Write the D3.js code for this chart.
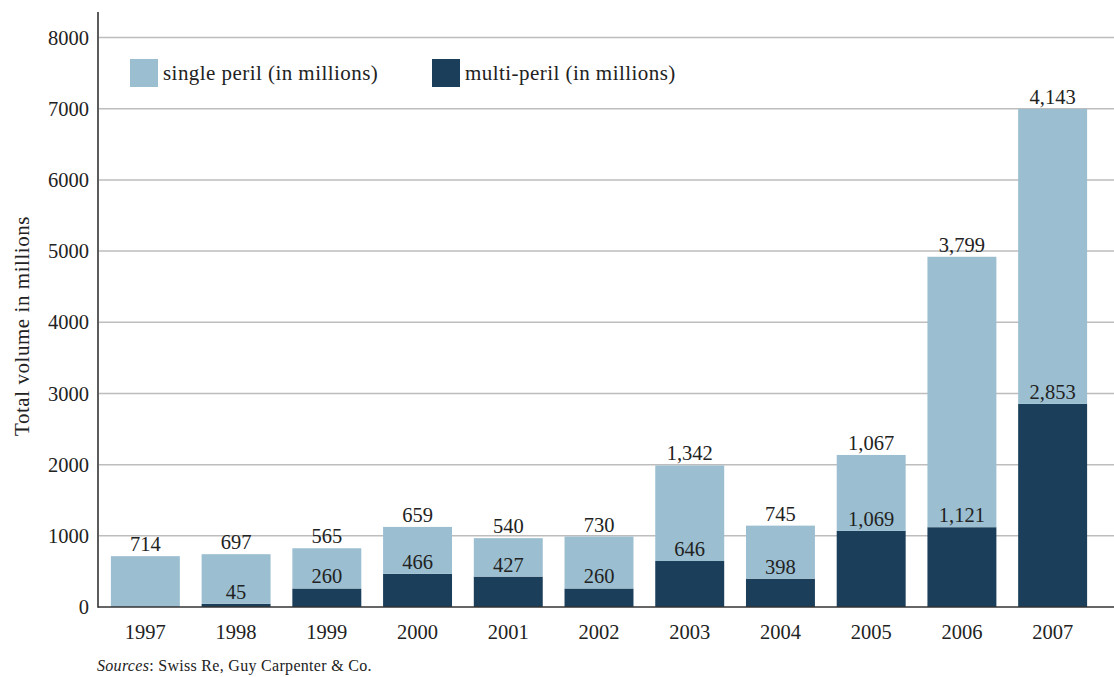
<!DOCTYPE html>
<html><head><meta charset="utf-8">
<script src="https://cdn.jsdelivr.net/npm/d3@7"></script>
<style>body{margin:0;background:#fff}svg{display:block}svg text{font-family:"Liberation Serif","DejaVu Serif",serif !important;fill:#222}</style>
</head><body><svg id="c" width="1114" height="677"></svg>
<script>
const years = ["1997","1998","1999","2000","2001","2002","2003","2004","2005","2006","2007"];
const singlePeril = [714,697,565,659,540,730,1342,745,1067,3799,4143];
const multiPeril = [0,45,260,466,427,260,646,398,1069,1121,2853];
const yTicks = [0,1000,2000,3000,4000,5000,6000,7000,8000];
const seriesNames = ["single peril (in millions)","multi-peril (in millions)"];
const colors = {single:"#9bbfd1", multi:"#1b3f5a"};

const svg = d3.select("#c");
const x0 = 98, xEnd = 1114, yTop = 37.5, yBot = 607;
const x = d3.scaleBand().domain(years).range([100,1098]).paddingInner(0.24).paddingOuter(0.12);
const y = d3.scaleLinear().domain([0,8000]).range([yBot,yTop]);
const fmt = d3.format(",");

// gridlines
svg.append("g").selectAll("line").data(yTicks.filter(d=>d>0)).join("line")
  .attr("x1",x0+1).attr("x2",xEnd).attr("y1",d=>y(d)).attr("y2",d=>y(d))
  .attr("stroke","#bdbdbd").attr("stroke-width",1.5);

// y tick labels
const yAxis = d3.axisLeft(y).tickValues(yTicks).tickSize(0).tickPadding(9).tickFormat(d3.format("d"));
const ya = svg.append("g").attr("transform",`translate(${x0},0)`).call(yAxis);
ya.select(".domain").remove();
ya.selectAll("text").style("font-size","20.5px").style("fill","#222");

// bars
const data = years.map((yr,i)=>({yr,s:singlePeril[i],m:multiPeril[i]}));
const g = svg.append("g");
g.selectAll("rect.m").data(data).join("rect").attr("class","m")
  .attr("x",d=>x(d.yr)).attr("width",x.bandwidth())
  .attr("y",d=>y(d.m)).attr("height",d=>y(0)-y(d.m)).attr("fill",colors.multi);
g.selectAll("rect.s").data(data).join("rect").attr("class","s")
  .attr("x",d=>x(d.yr)).attr("width",x.bandwidth())
  .attr("y",d=>y(d.m+d.s)).attr("height",d=>y(d.m)-y(d.m+d.s)).attr("fill",colors.single);

// labels
g.selectAll("text.ls").data(data).join("text").attr("class","ls")
  .attr("x",d=>x(d.yr)+x.bandwidth()/2).attr("y",d=>y(d.m+d.s)-5)
  .attr("text-anchor","middle").style("font-size","20.5px").text(d=>fmt(d.s));
g.selectAll("text.lm").data(data.filter(d=>d.m>0)).join("text").attr("class","lm")
  .attr("x",d=>x(d.yr)+x.bandwidth()/2).attr("y",d=>y(d.m)-5)
  .attr("text-anchor","middle").style("font-size","20.5px").text(d=>fmt(d.m));

// x axis
const xAxis = d3.axisBottom(x).tickSize(0).tickPadding(17);
const xa = svg.append("g").attr("transform",`translate(0,${yBot})`).call(xAxis);
xa.select(".domain").remove();
xa.selectAll("text").style("font-size","20.5px").style("fill","#222");
svg.append("line").attr("x1",x0).attr("x2",xEnd).attr("y1",yBot).attr("y2",yBot).attr("stroke","#333").attr("stroke-width",1.6);
svg.append("line").attr("x1",x0).attr("x2",x0).attr("y1",12).attr("y2",yBot+0.8).attr("stroke","#333").attr("stroke-width",1.6);

// y title
svg.append("text").attr("transform",`translate(29,${326}) rotate(-90)`)
  .attr("text-anchor","middle").style("font-size","21px").style("letter-spacing","0.55px").text("Total volume in millions");

// legend
const leg = [{n:seriesNames[0],c:colors.single,x:130},{n:seriesNames[1],c:colors.multi,x:432}];
const lg = svg.append("g");
lg.selectAll("rect").data(leg).join("rect").attr("x",d=>d.x).attr("y",59).attr("width",28).attr("height",28).attr("fill",d=>d.c);
lg.selectAll("text").data(leg).join("text").attr("x",d=>d.x+33).attr("y",80).style("font-size","21px").style("letter-spacing","0.45px").text(d=>d.n);

// source
const src = svg.append("text").attr("x",97).attr("y",671).style("font-size","16px").style("letter-spacing","0.3px");
src.append("tspan").style("font-style","italic").text("Sources");
src.append("tspan").text(": Swiss Re, Guy Carpenter & Co.");
</script></body></html>
